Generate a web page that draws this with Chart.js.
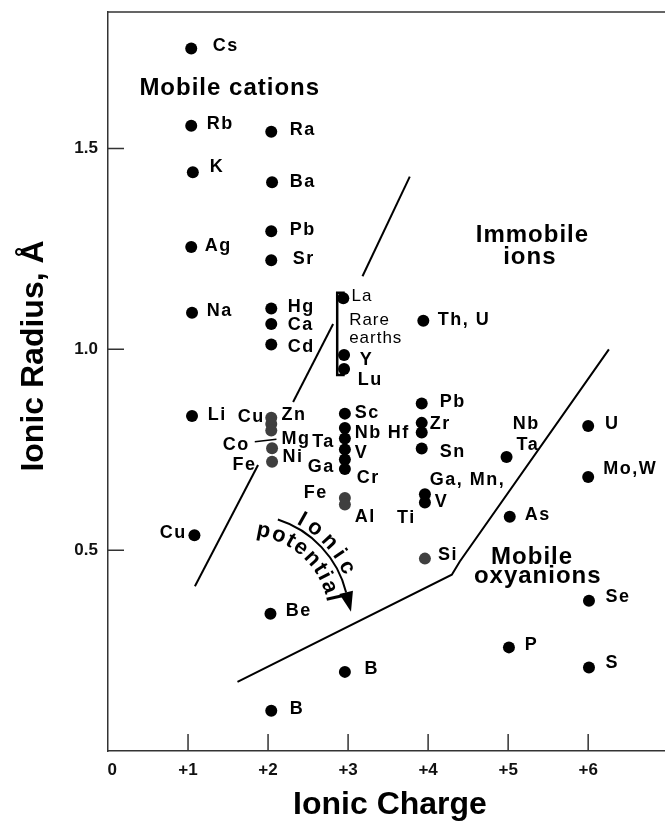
<!DOCTYPE html>
<html lang="en">
<head>
<meta charset="UTF-8">
<title>Ionic radius vs ionic charge</title>
<script src="https://cdn.jsdelivr.net/npm/chart.js"></script>
<style>
  html, body { margin: 0; padding: 0; background: #fff; }
  #wrap { width: 665px; height: 823px; }
</style>
</head>
<body>
<div id="wrap"><canvas id="chart" width="665" height="823"></canvas></div>
<script>
// black dots: ionic charge (as plotted) and ionic radius (Å)
const dotCharge = [1.04, 1.04, 1.06, 1.04, 1.05, 1.05, 1.08,
                   2.04, 2.05, 2.04, 2.04, 2.04, 2.04, 2.04, 2.03, 2.04,
                   2.94, 2.95, 2.95, 2.96, 2.96, 2.96, 2.96, 2.96, 2.96, 2.96,
                   3.94, 3.92, 3.92, 3.92, 3.92, 3.96, 3.96,
                   4.98, 5.02, 5.01,
                   6.00, 6.00, 6.01, 6.01];
const dotRadius = [1.749, 1.557, 1.441, 1.255, 1.091, 0.834, 0.537,
                   1.542, 1.416, 1.294, 1.222, 1.102, 1.063, 1.012, 0.342, 0.100,
                   1.127, 0.986, 0.951, 0.840, 0.804, 0.778, 0.751, 0.726, 0.702, 0.197,
                   1.071, 0.865, 0.817, 0.793, 0.753, 0.639, 0.619,
                   0.732, 0.583, 0.258,
                   0.809, 0.682, 0.374, 0.208];

// grey dots
const greyCharge = [2.04, 2.04, 2.04, 2.05, 2.05, 2.96, 2.96, 3.96];
const greyRadius = [0.830, 0.814, 0.798, 0.754, 0.720, 0.630, 0.614, 0.479];

// axis ticks
const chargeTicks = [0, 1, 2, 3, 4, 5, 6];
const chargeTickLabels = ['\u20020', '+1', '+2', '+3', '+4', '+5', '+6'];
const radiusTicks = [0.5, 1.0, 1.5];

// field boundaries
const leftLineCharge = [[1.086, 1.875], [2.313, 2.813], [3.18, 3.771]];
const leftLineRadius = [[0.410, 0.712], [0.869, 1.063], [1.182, 1.430]];
const rightLineCharge = [1.618, 4.296, 4.396, 6.259];
const rightLineRadius = [0.172, 0.439, 0.472, 1.000];

// element names: text, anchor (charge, radius), side ('l' = text starts there, 'r' = text ends there)
const tagText   = ['Cs', 'Rb', 'K', 'Ag', 'Na', 'Li', 'Cu',
                   'Ra', 'Ba', 'Pb', 'Sr', 'Hg', 'Ca', 'Cd', 'Cu', 'Zn', 'Mg', 'Co', 'Ni', 'Fe', 'Be', 'B',
                   'Y', 'Lu', 'Sc', 'Nb', 'Ta', 'V', 'Ga', 'Cr', 'Fe', 'Al', 'B',
                   'Th, U', 'Pb', 'Zr', 'Hf', 'Sn', 'Ga, Mn,', 'V', 'Ti', 'Si',
                   'Nb', 'Ta', 'As', 'P',
                   'U', 'Mo,W', 'Se', 'S'];
const tagCharge = [1.31, 1.234, 1.271, 1.209, 1.234, 1.246, 0.984,
                   2.271, 2.271, 2.271, 2.309, 2.246, 2.246, 2.246, 1.959, 2.167, 2.167, 1.771, 2.18, 1.855, 2.221, 2.271,
                   3.146, 3.121, 3.084, 3.084, 2.834, 3.084, 2.834, 3.109, 2.746, 3.084, 3.206,
                   4.121, 4.146, 4.021, 3.771, 4.146, 4.021, 4.084, 3.846, 4.125,
                   5.059, 5.105, 5.209, 5.209,
                   6.209, 6.188, 6.217, 6.217];
const tagRadius = [1.755, 1.561, 1.454, 1.258, 1.095, 0.836, 0.542,
                   1.546, 1.416, 1.297, 1.225, 1.105, 1.060, 1.005, 0.832, 0.836, 0.778, 0.761, 0.732, 0.712, 0.349, 0.104,
                   0.973, 0.923, 0.841, 0.791, 0.770, 0.741, 0.707, 0.679, 0.643, 0.583, 0.205,
                   1.073, 0.869, 0.815, 0.791, 0.745, 0.674, 0.620, 0.579, 0.487,
                   0.815, 0.761, 0.587, 0.263,
                   0.815, 0.703, 0.384, 0.219];
const tagSide   = ['l', 'l', 'l', 'l', 'l', 'l', 'r',
                   'l', 'l', 'l', 'l', 'l', 'l', 'l', 'r', 'l', 'l', 'r', 'l', 'r', 'l', 'l',
                   'l', 'l', 'l', 'l', 'r', 'l', 'r', 'l', 'r', 'l', 'l',
                   'l', 'l', 'l', 'r', 'l', 'l', 'l', 'r', 'l',
                   'l', 'l', 'l', 'l',
                   'l', 'l', 'l', 'l'];

// rare earths group
const rareText = ['La', 'Rare', 'earths'];
const rareCharge = [3.043, 3.013, 3.013];
const rareRadius = [1.133, 1.073, 1.027];

// field names (centred)
const fieldText = ['Mobile cations', 'Immobile', 'ions', 'Mobile', 'oxyanions'];
const fieldCharge = [1.521, 5.303, 5.271, 5.299, 5.37];
const fieldRadius = [1.650, 1.284, 1.230, 0.483, 0.436];

const FONT = '"Liberation Sans", Arial, Helvetica, sans-serif';
const AXIS = '#333';

function pts(xs, ys) {
  return xs.map((x, i) => ({ x: x, y: ys[i] }));
}

function put(ctx, s, x, y, font, align, spacing) {
  ctx.font = font;
  ctx.textAlign = align;
  ctx.textBaseline = 'middle';
  if ('letterSpacing' in ctx) ctx.letterSpacing = spacing + 'px';
  ctx.fillText(s, x, y);
}

// text running clockwise along a circle, first/last glyph centres at a0/a1 degrees
function arcText(ctx, s, cx, cy, r, a0, a1) {
  if ('letterSpacing' in ctx) ctx.letterSpacing = '0px';
  ctx.textAlign = 'center';
  ctx.textBaseline = 'alphabetic';
  const chars = [...s];
  const w = chars.map(c => ctx.measureText(c).width);
  const natural = w.reduce((a, b) => a + b, 0) - w[0] / 2 - w[w.length - 1] / 2;
  const target = (a1 - a0) * Math.PI / 180 * r;
  const sp = (target - natural) / (chars.length - 1);
  let pos = 0;
  chars.forEach((c, i) => {
    if (i > 0) pos += w[i - 1] / 2 + sp + w[i] / 2;
    const a = a0 * Math.PI / 180 + pos / r;
    ctx.save();
    ctx.translate(cx + r * Math.cos(a), cy + r * Math.sin(a));
    ctx.rotate(a + Math.PI / 2);
    ctx.fillText(c, 0, 0);
    ctx.restore();
  });
}

const overlay = {
  id: 'overlay',
  afterDraw(chart) {
    const ctx = chart.ctx;
    const xs = chart.scales.x, ys = chart.scales.y;
    const area = chart.chartArea;
    const X = v => xs.getPixelForValue(v);
    const Y = v => ys.getPixelForValue(v);
    ctx.save();

    // top frame line and inside tick marks
    ctx.strokeStyle = AXIS;
    ctx.lineWidth = 1.5;
    ctx.beginPath();
    ctx.moveTo(area.left, area.top);
    ctx.lineTo(area.right, area.top);
    chargeTicks.filter(v => v > 0).forEach(v => {
      ctx.moveTo(X(v), area.bottom);
      ctx.lineTo(X(v), area.bottom - 17);
    });
    radiusTicks.forEach(v => {
      ctx.moveTo(area.left, Y(v));
      ctx.lineTo(area.left + 16, Y(v));
    });
    ctx.stroke();

    // rare earths bracket and Co leader
    ctx.strokeStyle = '#000';
    ctx.lineWidth = 2.5;
    ctx.beginPath();
    ctx.moveTo(X(2.958), Y(1.141));
    ctx.lineTo(X(2.864), Y(1.141));
    ctx.lineTo(X(2.864), Y(0.936));
    ctx.lineTo(X(2.958), Y(0.936));
    ctx.stroke();
    ctx.lineWidth = 1.5;
    ctx.beginPath();
    ctx.moveTo(X(1.834), Y(0.770));
    ctx.lineTo(X(2.105), Y(0.776));
    ctx.stroke();

    ctx.fillStyle = '#000';
    // element names
    tagText.forEach((s, i) => {
      put(ctx, s, X(tagCharge[i]), Y(tagRadius[i]), 'bold 18px ' + FONT,
          tagSide[i] === 'r' ? 'right' : 'left', 1.5);
    });
    rareText.forEach((s, i) => {
      put(ctx, s, X(rareCharge[i]), Y(rareRadius[i]), '17px ' + FONT, 'left', 1);
    });
    // field names
    fieldText.forEach((s, i) => {
      put(ctx, s, X(fieldCharge[i]), Y(fieldRadius[i]), 'bold 24px ' + FONT, 'center', 1);
    });

    // "Ionic potential" arrow
    const cx = X(1.733), cy = Y(0.3331), r = 102.5;
    const a0 = -72.3 * Math.PI / 180, a1 = -14 * Math.PI / 180;
    ctx.lineWidth = 2;
    ctx.beginPath();
    ctx.arc(cx, cy, r, a0, a1);
    ctx.stroke();
    const bx = cx + r * Math.cos(a1), by = cy + r * Math.sin(a1);
    const tx = -Math.sin(a1), ty = Math.cos(a1);
    ctx.beginPath();
    ctx.moveTo(bx + 20 * tx, by + 20 * ty);
    ctx.lineTo(bx + 7 * Math.cos(a1), by + 7 * Math.sin(a1));
    ctx.lineTo(bx - 7 * Math.cos(a1), by - 7 * Math.sin(a1));
    ctx.closePath();
    ctx.fill();
    ctx.font = 'bold 22px ' + FONT;
    arcText(ctx, 'Ionic', cx, cy, 106, -60.5, -26.5);
    arcText(ctx, 'potential', cx, cy, 82, -79, -12.6);

    // axis titles
    put(ctx, 'Ionic Charge', 390, 805, 'bold 32px ' + FONT, 'center', 0);
    ctx.save();
    ctx.translate(34, 356);
    ctx.rotate(-Math.PI / 2);
    put(ctx, 'Ionic Radius, \u00c5', 0, 0, 'bold 32px ' + FONT, 'center', 0);
    ctx.restore();

    ctx.restore();
  }
};

const lineStyle = {
  showLine: true,
  borderColor: '#000',
  borderWidth: 2,
  pointRadius: 0,
  fill: false,
  order: 3
};

const datasets = [
  {
    data: pts(dotCharge, dotRadius),
    pointRadius: 6,
    pointBackgroundColor: '#000',
    pointBorderWidth: 0,
    order: 1
  },
  {
    data: pts(greyCharge, greyRadius),
    pointRadius: 6,
    pointBackgroundColor: '#3f3f3f',
    pointBorderWidth: 0,
    order: 2
  },
  Object.assign({ data: pts(rightLineCharge, rightLineRadius) }, lineStyle)
];
leftLineCharge.forEach((seg, i) => {
  datasets.push(Object.assign({ data: pts(seg, leftLineRadius[i]) }, lineStyle));
});

new Chart(document.getElementById('chart'), {
  type: 'scatter',
  data: { datasets: datasets },
  options: {
    responsive: false,
    animation: false,
    events: [],
    layout: { autoPadding: false, padding: { top: 12, right: 0, left: 0, bottom: 0 } },
    plugins: { legend: { display: false }, tooltip: { enabled: false } },
    scales: {
      x: {
        type: 'linear',
        min: 0,
        max: 6.96,
        grid: { display: false, drawTicks: false },
        border: { display: true, color: AXIS, width: 1.5 },
        afterBuildTicks: s => { s.ticks = chargeTicks.map(v => ({ value: v })); },
        afterFit: s => { s.height = 72; s.paddingLeft = 0; s.paddingRight = 0; },
        ticks: {
          autoSkip: false,
          maxRotation: 0,
          padding: 9,
          color: '#111',
          font: { family: FONT, size: 17, weight: 'bold' },
          callback: (v, i) => chargeTickLabels[i]
        }
      },
      y: {
        type: 'linear',
        min: 0,
        max: 1.84,
        grid: { display: false, drawTicks: false },
        border: { display: true, color: AXIS, width: 1.5 },
        afterBuildTicks: s => { s.ticks = radiusTicks.map(v => ({ value: v })); },
        afterFit: s => { s.width = 108; s.paddingTop = 0; s.paddingBottom = 0; },
        ticks: {
          padding: 10,
          color: '#111',
          font: { family: FONT, size: 17, weight: 'bold' },
          callback: v => v.toFixed(1)
        }
      }
    }
  },
  plugins: [overlay]
});
</script>
</body>
</html>
